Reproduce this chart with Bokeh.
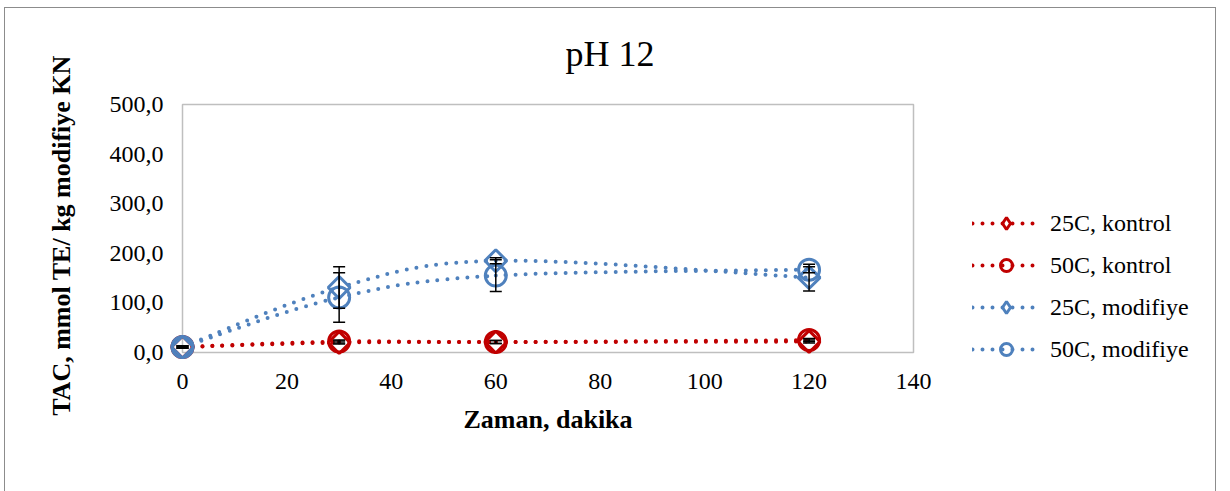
import numpy as np
from bokeh.plotting import figure
from bokeh.models import (ColumnDataSource, Whisker, TeeHead, Legend, LegendItem,
                          FixedTicker, Range1d, Title)
from bokeh.embed import file_html
from bokeh.resources import INLINE

# ---- data ----
time_min = [0, 30, 60, 120]
k25 = [11, 20, 21, 22]
k25_err = [2, 3, 3, 3]
k50 = [11, 22, 21, 25]
k50_err = [2, 3, 3, 3]
m25 = [11, 131, 185, 151]
m25_err = [2, 42, 6, 27]
m50 = [11, 111, 155, 167]
m50_err = [2, 50, 32, 6]

series_names = ["25C, kontrol", "50C, kontrol", "25C, modifiye", "50C, modifiye"]
y_ticks = [0, 100, 200, 300, 400, 500]
y_tick_labels = ["0,0", "100,0", "200,0", "300,0", "400,0", "500,0"]
x_ticks = [0, 20, 40, 60, 80, 100, 120, 140]

RED = "#c00000"
BLUE = "#4f81bd"
FONT = "Liberation Serif"

# ---- geometry (page pixels) ----
OX, OY = 5, 8                       # canvas origin on the page
AX_L, AX_R = 182, 913               # x = 0 and x = 140
AX_T, AX_B = 104, 352               # y = 500 and y = 0
FR_L, FR_R, FR_T, FR_B = 160, 1213, 98, 372
CW, CH = 1210, 490

xs_per = (AX_R - AX_L) / (x_ticks[-1] - x_ticks[0])
ys_per = (AX_B - AX_T) / (y_ticks[-1] - y_ticks[0])
x_start = x_ticks[0] - (AX_L - FR_L) / xs_per
x_end = x_ticks[-1] + (FR_R - AX_R) / xs_per
y_start = y_ticks[0] - (FR_B - AX_B) / ys_per
y_end = y_ticks[-1] + (AX_T - FR_T) / ys_per

p = figure(width=CW, height=CH, x_range=(x_start, x_end), y_range=(y_start, y_end),
           output_backend="svg", toolbar_location=None,
           min_border_left=FR_L - OX, min_border_right=OX + CW - FR_R,
           min_border_top=FR_T - OY, min_border_bottom=OY + CH - FR_B)
p.margin = (OY, 0, 0, OX)
p.styles = {"outline": "1.5px solid #8c8c8c"}
p.extra_y_ranges = {"hidden": Range1d(1e6, 1e6 + 1)}

p.title.text = "pH 12"
p.title.align = "left"
p.title.offset = 565 - FR_L
p.title.vertical_align = "top"
p.title.standoff = 46
p.title.text_font = FONT
p.title.text_font_size = "36px"
p.title.text_font_style = "normal"
p.title.text_color = "black"

p.grid.visible = False
p.outline_line_color = None
p.background_fill_color = "white"
p.border_fill_color = "white"

for ax in (p.xaxis[0], p.yaxis[0]):
    ax.axis_line_color = None
    ax.major_tick_line_color = None
    ax.minor_tick_line_color = None
    ax.major_tick_out = 0
    ax.major_tick_in = 0
    ax.major_label_text_font = FONT
    ax.major_label_text_font_size = "24px"
    ax.major_label_text_color = "black"
    ax.axis_label_text_font = FONT
    ax.axis_label_text_font_size = "26px"
    ax.axis_label_text_font_style = "bold"
    ax.axis_label_text_color = "black"

p.xaxis.ticker = FixedTicker(ticks=x_ticks)
p.yaxis.ticker = FixedTicker(ticks=y_ticks)
p.xaxis.bounds = (x_ticks[0], x_ticks[-1])
p.yaxis.bounds = (y_start, y_ticks[-1])
p.yaxis.major_label_overrides = {t: l for t, l in zip(y_ticks, y_tick_labels)}
p.yaxis.axis_label = "TAC, mmol TE/ kg modifiye KN"
p.xaxis.major_label_standoff = 1
p.yaxis.major_label_standoff = -3
p.yaxis.axis_label_standoff = 31

# x-axis title, centred under the 0-140 axis span
x_title = Title(text="Zaman, dakika", align="left", offset=463 - FR_L,
                vertical_align="top", standoff=26, text_font=FONT,
                text_font_size="26px", text_font_style="bold",
                text_color="black")
p.add_layout(x_title, "below")

# plot-area box
p.quad(left=x_ticks[0], right=x_ticks[-1], bottom=y_ticks[0], top=y_ticks[-1],
       fill_color=None, line_color="#bfbfbf", line_width=1.5)


def smooth_segments(xs, ys, t=1.0 / 6.0):
    xs = np.asarray(xs, float)
    ys = np.asarray(ys, float)
    n = len(xs)
    px = np.concatenate([[xs[0]], xs, [xs[-1]]])
    py = np.concatenate([[ys[0]], ys, [ys[-1]]])
    d = dict(x0=[], y0=[], x1=[], y1=[], cx0=[], cy0=[], cx1=[], cy1=[])
    for i in range(n - 1):
        p0 = (px[i], py[i]); p1 = (px[i + 1], py[i + 1])
        p2 = (px[i + 2], py[i + 2]); p3 = (px[i + 3], py[i + 3])
        d["x0"].append(p1[0]); d["y0"].append(p1[1])
        d["x1"].append(p2[0]); d["y1"].append(p2[1])
        d["cx0"].append(p1[0] + (p2[0] - p0[0]) * t)
        d["cy0"].append(p1[1] + (p2[1] - p0[1]) * t)
        d["cx1"].append(p2[0] - (p3[0] - p1[0]) * t)
        d["cy1"].append(p2[1] - (p3[1] - p1[1]) * t)
    return ColumnDataSource(d)


series = [
    (k25, k25_err, RED, "diamond"),
    (k50, k50_err, RED, "circle"),
    (m25, m25_err, BLUE, "diamond"),
    (m50, m50_err, BLUE, "circle"),
]

items = []
for name, (vals, errs, color, marker) in zip(series_names, series):
    seg = smooth_segments(time_min, vals)
    br = p.bezier(x0="x0", y0="y0", x1="x1", y1="y1", cx0="cx0", cy0="cy0",
                  cx1="cx1", cy1="cy1", source=seg, line_color=color,
                  line_width=4, line_dash="0 10", line_cap="round")
    src = ColumnDataSource(dict(x=time_min, y=vals,
                                upper=[v + e for v, e in zip(vals, errs)],
                                lower=[v - e for v, e in zip(vals, errs)]))
    if marker == "diamond":
        p.scatter("x", "y", source=src, marker="square", size=15.5,
                  angle=np.pi / 4, line_color=color, line_width=3,
                  fill_color=None)
        # same points on an off-screen range: supplies the legend's diamond glyph
        sc = p.scatter("x", "y", source=src, marker="diamond", size=15,
                       line_color=color, line_width=3, fill_color=None,
                       y_range_name="hidden")
    else:
        sc = p.scatter("x", "y", source=src, marker="circle", size=21,
                       line_color=color, line_width=3, fill_color=None)
    w = Whisker(base="x", upper="upper", lower="lower", source=src,
                line_color="black", line_width=1.5, level="overlay",
                upper_head=TeeHead(size=12, line_color="black", line_width=1.5),
                lower_head=TeeHead(size=12, line_color="black", line_width=1.5))
    p.add_layout(w)
    items.append(LegendItem(label=name, renderers=[br, sc]))

legend = Legend(items=items, location=(972 - FR_L, FR_B - 364), padding=0, margin=0,
                border_line_color=None, background_fill_alpha=0,
                glyph_width=68, glyph_height=30, spacing=12,
                label_standoff=10, label_text_font=FONT,
                label_text_font_size="24px", label_text_color="black")
p.add_layout(legend)

open("out.html", "w").write(file_html(p, INLINE))
